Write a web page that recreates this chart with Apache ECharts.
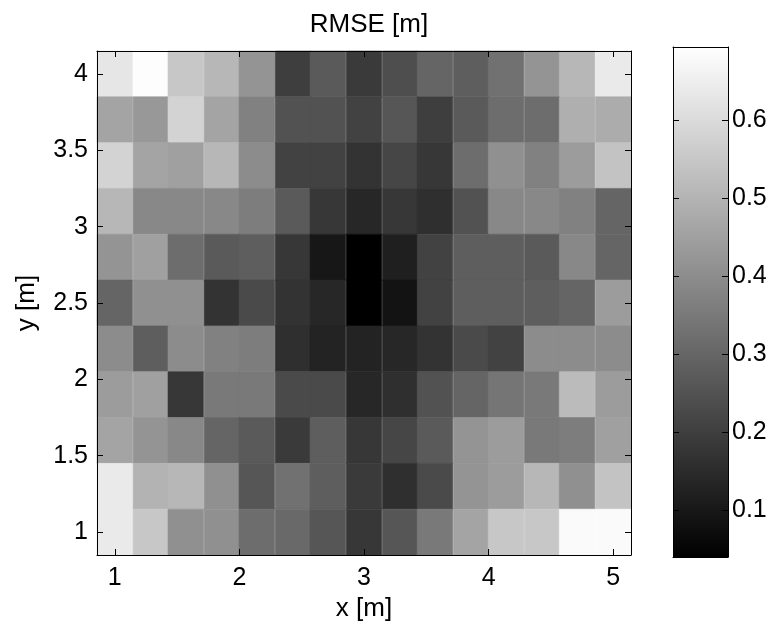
<!DOCTYPE html>
<html>
<head>
<meta charset="utf-8">
<script src="https://cdn.jsdelivr.net/npm/echarts@6/dist/echarts.min.js"></script>
<style>
  html, body { margin: 0; padding: 0; background: #fff; }
  #chart_1 { width: 770px; height: 629px; }
</style>
</head>
<body>
<div id="chart_1"></div>
<script>
'use strict';

// cell centres
var xCenters = [1, 1.29, 1.57, 1.86, 2.14, 2.43, 2.71, 3, 3.29, 3.57, 3.86, 4.14, 4.43, 4.71, 5];
var yCenters = [4, 3.7, 3.4, 3.1, 2.8, 2.5, 2.2, 1.9, 1.6, 1.3, 1];

// RMSE [m], one row per y (top to bottom)
var rmse_y40 = [0.63, 0.69, 0.55, 0.51, 0.42, 0.20, 0.27, 0.19, 0.24, 0.30, 0.28, 0.33, 0.42, 0.51, 0.64];
var rmse_y37 = [0.46, 0.43, 0.58, 0.46, 0.37, 0.25, 0.25, 0.21, 0.26, 0.20, 0.27, 0.32, 0.32, 0.49, 0.48];
var rmse_y34 = [0.58, 0.46, 0.45, 0.51, 0.40, 0.21, 0.21, 0.17, 0.22, 0.18, 0.32, 0.41, 0.37, 0.44, 0.54];
var rmse_y31 = [0.51, 0.39, 0.39, 0.39, 0.36, 0.27, 0.18, 0.14, 0.18, 0.16, 0.25, 0.39, 0.39, 0.37, 0.30];
var rmse_y28 = [0.42, 0.45, 0.32, 0.27, 0.28, 0.18, 0.10, 0.04, 0.12, 0.21, 0.28, 0.28, 0.27, 0.39, 0.30];
var rmse_y25 = [0.30, 0.41, 0.41, 0.17, 0.23, 0.17, 0.14, 0.04, 0.09, 0.21, 0.28, 0.28, 0.28, 0.30, 0.44];
var rmse_y22 = [0.40, 0.28, 0.40, 0.37, 0.36, 0.16, 0.13, 0.13, 0.14, 0.17, 0.23, 0.21, 0.40, 0.40, 0.40];
var rmse_y19 = [0.44, 0.45, 0.18, 0.35, 0.35, 0.23, 0.23, 0.14, 0.16, 0.25, 0.30, 0.34, 0.35, 0.52, 0.44];
var rmse_y16 = [0.46, 0.42, 0.39, 0.30, 0.27, 0.19, 0.28, 0.18, 0.22, 0.27, 0.42, 0.44, 0.35, 0.36, 0.45];
var rmse_y13 = [0.64, 0.50, 0.51, 0.41, 0.26, 0.33, 0.28, 0.19, 0.16, 0.23, 0.42, 0.44, 0.51, 0.41, 0.54];
var rmse_y10 = [0.64, 0.55, 0.41, 0.41, 0.32, 0.31, 0.26, 0.18, 0.26, 0.35, 0.46, 0.55, 0.55, 0.68, 0.68];
var rmseRows = [rmse_y40, rmse_y37, rmse_y34, rmse_y31, rmse_y28, rmse_y25, rmse_y22, rmse_y19, rmse_y16, rmse_y13, rmse_y10];

// tick labels
var xTicks = [1, 2, 3, 4, 5];
var yTicks = [1, 1.5, 2, 2.5, 3, 3.5, 4];
var cbarTicks = [0.1, 0.2, 0.3, 0.4, 0.5, 0.6];
var cbarRange = [0.04, 0.694];

document.addEventListener('DOMContentLoaded', function () {
  floatchart();
});

function floatchart() {
  var myChart = echarts.init(document.getElementById('chart_1'));
  var font = "'Liberation Sans', Arial, Helvetica, sans-serif";

  var cellW = (xCenters[xCenters.length - 1] - xCenters[0]) / (xCenters.length - 1);
  var cellH = yCenters[0] - yCenters[1];

  var cells = [];
  rmseRows.forEach(function (row, j) {
    row.forEach(function (v, i) {
      cells.push([xCenters[i], yCenters[j], v]);
    });
  });

  var tickStyle = { inside: true, length: 6, lineStyle: { color: '#000', width: 1 } };
  var lineStyle = { show: true, onZero: false, lineStyle: { color: '#000', width: 1 } };

  var option = {
    backgroundColor: '#fff',
    animation: false,
    title: {
      text: 'RMSE [m]',
      left: 364,
      top: 7,
      textAlign: 'center',
      textStyle: { fontFamily: font, fontSize: 26, fontWeight: 'normal', color: '#000' }
    },
    grid: [
      { left: 97, top: 51, width: 534, height: 504 },
      { left: 673, top: 47, width: 55, height: 510 }
    ],
    visualMap: {
      show: false,
      type: 'continuous',
      seriesIndex: 0,
      dimension: 2,
      min: cbarRange[0],
      max: cbarRange[1],
      inRange: { color: ['#000000', '#ffffff'] }
    },
    xAxis: [
      {
        gridIndex: 0, type: 'value', position: 'bottom', z: 10,
        min: xCenters[0] - cellW / 2, max: xCenters[xCenters.length - 1] + cellW / 2,
        axisLine: lineStyle,
        axisTick: Object.assign({ customValues: xTicks }, tickStyle),
        axisLabel: { customValues: xTicks, margin: 11, fontFamily: font, fontSize: 25, color: '#000' },
        splitLine: { show: false },
        name: 'x [m]', nameLocation: 'middle', nameGap: 38,
        nameTextStyle: { fontFamily: font, fontSize: 26, color: '#000' }
      },
      {
        gridIndex: 0, type: 'value', position: 'top', z: 10,
        min: xCenters[0] - cellW / 2, max: xCenters[xCenters.length - 1] + cellW / 2,
        axisLine: lineStyle,
        axisTick: Object.assign({ customValues: xTicks }, tickStyle),
        axisLabel: { show: false },
        splitLine: { show: false }
      },
      {
        gridIndex: 1, type: 'value', position: 'bottom', z: 10, min: 0, max: 1,
        axisLine: lineStyle, axisTick: { show: false }, axisLabel: { show: false }, splitLine: { show: false }
      },
      {
        gridIndex: 1, type: 'value', position: 'top', z: 10, min: 0, max: 1,
        axisLine: lineStyle, axisTick: { show: false }, axisLabel: { show: false }, splitLine: { show: false }
      }
    ],
    yAxis: [
      {
        gridIndex: 0, type: 'value', position: 'left', z: 10,
        min: yCenters[yCenters.length - 1] - cellH / 2, max: yCenters[0] + cellH / 2,
        axisLine: lineStyle,
        axisTick: Object.assign({ customValues: yTicks }, tickStyle),
        axisLabel: { customValues: yTicks, margin: 9, fontFamily: font, fontSize: 25, color: '#000' },
        splitLine: { show: false },
        name: 'y [m]', nameLocation: 'middle', nameGap: 57, nameRotate: 90,
        nameTextStyle: { fontFamily: font, fontSize: 26, color: '#000' }
      },
      {
        gridIndex: 0, type: 'value', position: 'right', z: 10,
        min: yCenters[yCenters.length - 1] - cellH / 2, max: yCenters[0] + cellH / 2,
        axisLine: lineStyle,
        axisTick: Object.assign({ customValues: yTicks }, tickStyle),
        axisLabel: { show: false },
        splitLine: { show: false }
      },
      {
        gridIndex: 1, type: 'value', position: 'right', z: 10,
        min: cbarRange[0], max: cbarRange[1],
        axisLine: lineStyle,
        axisTick: Object.assign({ customValues: cbarTicks }, tickStyle),
        axisLabel: { customValues: cbarTicks, margin: 4, fontFamily: font, fontSize: 25, color: '#000' },
        splitLine: { show: false }
      },
      {
        gridIndex: 1, type: 'value', position: 'left', z: 10,
        min: cbarRange[0], max: cbarRange[1],
        axisLine: lineStyle,
        axisTick: Object.assign({ customValues: cbarTicks }, tickStyle),
        axisLabel: { show: false },
        splitLine: { show: false }
      }
    ],
    series: [
      {
        type: 'custom',
        xAxisIndex: 0,
        yAxisIndex: 0,
        data: cells,
        encode: { x: 0, y: 1 },
        renderItem: function (params, api) {
          var p0 = api.coord([api.value(0) - cellW / 2, api.value(1) + cellH / 2]);
          var p1 = api.coord([api.value(0) + cellW / 2, api.value(1) - cellH / 2]);
          var c = api.visual('color');
          return {
            type: 'rect',
            shape: { x: p0[0], y: p0[1], width: p1[0] - p0[0], height: p1[1] - p0[1] },
            style: { fill: c, stroke: c, lineWidth: 0.6 }
          };
        }
      },
      {
        type: 'custom',
        xAxisIndex: 2,
        yAxisIndex: 2,
        data: [[0, cbarRange[1], 1, cbarRange[0]]],
        renderItem: function (params, api) {
          var p0 = api.coord([api.value(0), api.value(1)]);
          var p1 = api.coord([api.value(2), api.value(3)]);
          return {
            type: 'rect',
            shape: { x: p0[0], y: p0[1], width: p1[0] - p0[0], height: p1[1] - p0[1] },
            style: {
              fill: new echarts.graphic.LinearGradient(0, 0, 0, 1, [
                { offset: 0, color: '#ffffff' },
                { offset: 1, color: '#000000' }
              ])
            }
          };
        }
      }
    ]
  };
  myChart.setOption(option);
}
</script>
</body>
</html>
